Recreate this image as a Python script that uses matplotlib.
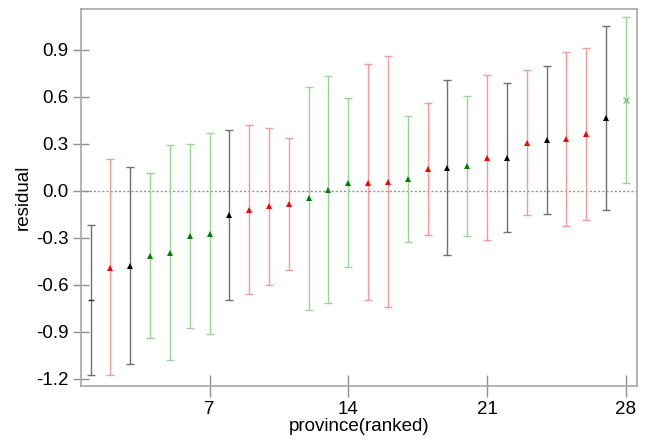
import numpy as np
import matplotlib
matplotlib.use("Agg")
import matplotlib.pyplot as plt

plt.rcParams["font.family"] = ["Liberation Sans", "DejaVu Sans"]
plt.rcParams["axes.unicode_minus"] = False

# province rank, residual estimate and interval
rank = list(range(1, 29))
resid = [-0.694, -0.49, -0.477, -0.415, -0.398, -0.289, -0.272, -0.153, -0.119, -0.098,
         -0.085, -0.047, 0.009, 0.053, 0.053, 0.057, 0.074, 0.138, 0.149, 0.160,
         0.211, 0.211, 0.306, 0.323, 0.332, 0.362, 0.464, 0.583]
upper = [-0.215, 0.202, 0.155, 0.113, 0.294, 0.302, 0.370, 0.391, 0.423, 0.404,
         0.338, 0.666, 0.736, 0.596, 0.809, 0.860, 0.481, 0.560, 0.711, 0.606,
         0.740, 0.691, 0.774, 0.798, 0.889, 0.915, 1.053, 1.111]
lower = [-1.177, -1.174, -1.102, -0.940, -1.081, -0.877, -0.915, -0.694, -0.657, -0.598,
         -0.502, -0.757, -0.715, -0.487, -0.696, -0.738, -0.326, -0.279, -0.411, -0.287,
         -0.315, -0.262, -0.153, -0.145, -0.226, -0.187, -0.123, 0.053]
group = ["k", "r", "k", "g", "g", "g", "g", "k", "r", "r",
         "r", "g", "g", "g", "r", "r", "g", "r", "k", "g",
         "r", "k", "r", "k", "r", "r", "k", "g"]

bar_col = {"k": "#707070", "r": "#f59a9a", "g": "#9ad49a"}
pt_col = {"k": "black", "r": "red", "g": "green"}

fig = plt.figure(figsize=(6.46, 4.44), dpi=100)
ax = fig.add_axes([0.125, 0.1313, 0.8606, 0.8484])

ax.axhline(0, color="#909090", lw=1, ls=(0, (1.5, 1.5)), zorder=1)

for i in range(len(rank)):
    g = group[i]
    err = [[resid[i] - lower[i]], [upper[i] - resid[i]]]
    ax.errorbar(rank[i], resid[i], yerr=err, fmt="none", ecolor=bar_col[g],
                elinewidth=1, capsize=3, capthick=1, zorder=2)
    if i == 0:
        ax.plot(rank[i], resid[i], marker="_", color="#303030", ms=5, mew=1, zorder=3)
    elif i == len(rank) - 1:
        ax.plot(rank[i], resid[i], marker="x", color="#7cc87c", ms=4, mew=1, zorder=3)
    else:
        ax.plot(rank[i], resid[i], marker="^", color=pt_col[g], ms=5, mew=0, zorder=3)

ax.set_xlim(0.5, 28.55)
ax.set_ylim(-1.243, 1.161)
ax.set_xticks([7, 14, 21, 28])
ax.set_yticks(np.arange(-1.2, 0.91, 0.3))
ax.set_yticklabels([f"{v:.1f}" for v in np.arange(-1.2, 0.91, 0.3)])

for s in ax.spines.values():
    s.set_color("#a8a8a8")
    s.set_linewidth(1.2)
ax.tick_params(axis="y", direction="inout", length=11.5, width=1, color="#909090",
               labelsize=13.5, pad=3)
ax.tick_params(axis="x", direction="inout", length=16, width=1, color="#909090",
               labelsize=13.5, pad=3)

ax.set_xlabel("province(ranked)", fontsize=13.5, labelpad=0)
ax.set_ylabel("residual", fontsize=13.5, labelpad=3)

fig.savefig("out.png", dpi=100)
